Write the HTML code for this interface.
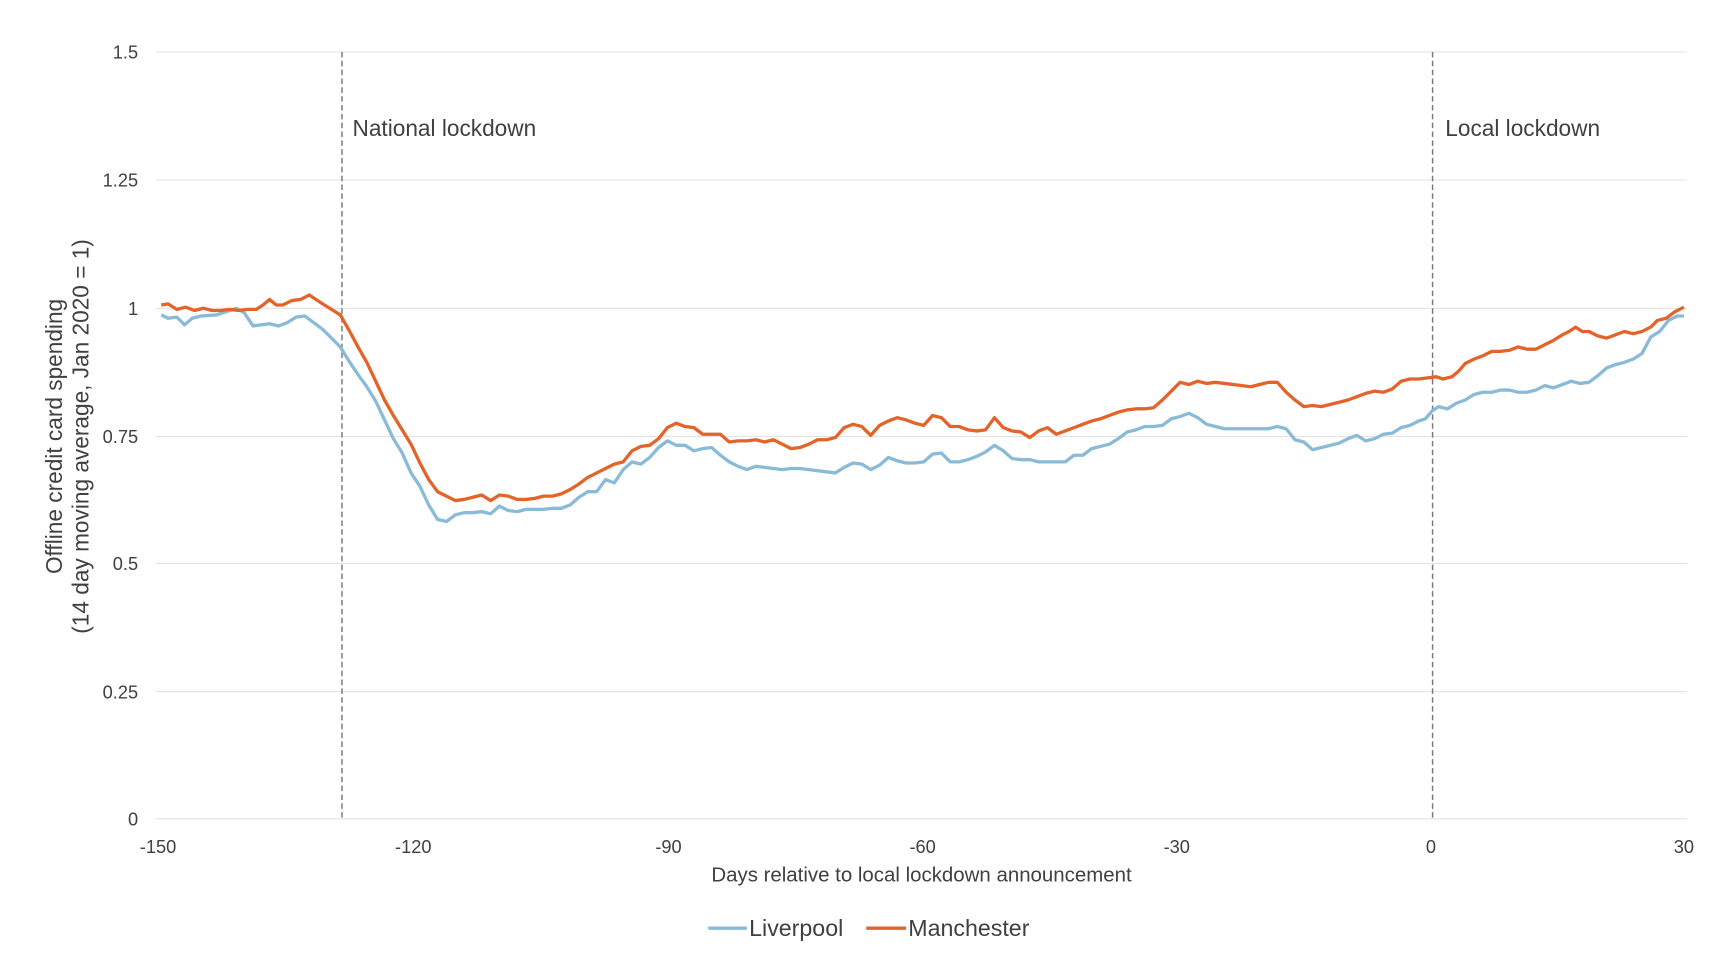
<!DOCTYPE html>
<html><head><meta charset="utf-8"><style>html,body{margin:0;padding:0;background:#fff}svg{display:block}text{font-family:"Liberation Sans",Arial,sans-serif;fill:#404040}</style></head>
<body>
<svg width="1733" height="959" viewBox="0 0 1568.4 867.9" xmlns="http://www.w3.org/2000/svg">
<g stroke="#e3e3e3" stroke-width="1">
<line x1="141" y1="47" x2="1527" y2="47"/><line x1="141" y1="163" x2="1527" y2="163"/>
<line x1="141" y1="279" x2="1527" y2="279"/><line x1="141" y1="395" x2="1527" y2="395"/>
<line x1="141" y1="510" x2="1527" y2="510"/><line x1="141" y1="626" x2="1527" y2="626"/>
<line x1="141" y1="741" x2="1527" y2="741"/></g>
<g font-size="16.5" text-anchor="end">
<text x="125" y="53">1.5</text><text x="125" y="169">1.25</text><text x="125" y="285">1</text>
<text x="125" y="401">0.75</text><text x="125" y="516">0.5</text><text x="125" y="632">0.25</text><text x="125" y="747">0</text></g>
<g font-size="16.5" text-anchor="middle">
<text x="143" y="772">-150</text><text x="374" y="772">-120</text><text x="605" y="772">-90</text>
<text x="835" y="772">-60</text><text x="1065" y="772">-30</text><text x="1295" y="772">0</text><text x="1524" y="772">30</text></g>
<text x="834" y="798" font-size="18.5" text-anchor="middle">Days relative to local lockdown announcement</text>
<g transform="translate(56,395) rotate(-90)" font-size="20.5" text-anchor="middle"><text x="0" y="0">Offline credit card spending</text><text x="0" y="24">(14 day moving average, Jan 2020 = 1)</text></g>
<line x1="309.5" y1="47" x2="309.5" y2="741" stroke="#777" stroke-width="1.3" stroke-dasharray="5,3"/>
<line x1="1296.5" y1="47" x2="1296.5" y2="741" stroke="#777" stroke-width="1.3" stroke-dasharray="5,3"/>
<text x="319" y="123" font-size="20.5">National lockdown</text>
<text x="1308" y="123" font-size="20.5">Local lockdown</text>
<polyline fill="none" stroke="#89bbd9" stroke-width="3" stroke-linejoin="round" points="146,285 152,288 160,287 167,294 174,288 182,286 196,285 205,282 214,279 221,283 229,295 236,294 244,293 252,295 260,292 268,287 276,286 284,292 292,298 300,306 308,314 316,327 324,339 332,350 340,363 348,380 356,397 364,410 372,428 380,440 388,457 396,470 404,472 412,466 420,464 428,464 436,463 444,465 452,458 460,462 468,463 476,461 484,461 492,461 500,460 508,460 516,457 524,450 532,445 540,445 548,434 556,437 564,425 572,418 580,420 588,414 596,405 604,399 612,403 620,403 628,408 636,406 644,405 652,412 660,418 668,422 676,425 684,422 692,423 700,424 708,425 716,424 724,424 732,425 740,426 748,427 756,428 764,423 772,419 780,420 788,425 796,421 804,414 812,417 820,419 828,419 836,418 844,411 852,410 860,418 868,418 876,416 884,413 892,409 900,403 908,408 916,415 924,416 932,416 940,418 948,418 956,418 964,418 972,412 980,412 988,406 996,404 1004,402 1012,397 1020,391 1028,389 1036,386 1044,386 1052,385 1060,379 1068,377 1076,374 1084,378 1092,384 1100,386 1108,388 1116,388 1124,388 1132,388 1140,388 1148,388 1156,386 1164,388 1172,398 1180,400 1188,407 1196,405 1204,403 1212,401 1220,397 1228,394 1236,399 1244,397 1252,393 1260,392 1268,387 1276,385 1284,381 1290,379 1296,372 1302,368 1310,370 1318,365 1326,362 1334,357 1342,355 1350,355 1358,353 1366,353 1374,355 1382,355 1390,353 1398,349 1406,351 1414,348 1422,345 1430,347 1438,346 1446,340 1454,333 1462,330 1470,328 1478,325 1486,320 1494,305 1502,300 1510,290 1518,286 1524,286"/>
<polyline fill="none" stroke="#e2642a" stroke-width="3" stroke-linejoin="round" points="146,276 152,275 160,280 168,278 176,281 184,279 192,281 200,281 208,280 216,281 224,280 232,280 238,276 244,271 250,276 256,276 264,272 272,271 280,267 286,271 292,275 300,280 308,285 316,299 324,314 332,328 340,345 348,362 356,376 364,389 372,402 380,419 388,434 396,445 404,449 412,453 420,452 428,450 436,448 444,453 452,448 460,449 468,452 476,452 484,451 492,449 500,449 508,447 516,443 524,438 532,432 540,428 548,424 556,420 564,418 572,408 580,404 588,403 596,397 604,387 612,383 620,386 628,387 636,393 644,393 652,393 660,400 668,399 676,399 684,398 692,400 700,398 708,402 716,406 724,405 732,402 740,398 748,398 756,396 764,387 772,384 780,386 788,394 796,385 804,381 812,378 820,380 828,383 836,385 844,376 852,378 860,386 868,386 876,389 884,390 892,389 900,378 908,387 916,390 924,391 932,396 940,390 948,387 956,393 964,390 972,387 980,384 988,381 996,379 1004,376 1012,373 1020,371 1028,370 1036,370 1044,369 1052,362 1060,354 1068,346 1076,348 1084,345 1092,347 1100,346 1108,347 1116,348 1124,349 1132,350 1140,348 1148,346 1156,346 1164,355 1172,362 1180,368 1188,367 1196,368 1204,366 1212,364 1220,362 1228,359 1236,356 1244,354 1252,355 1260,352 1268,345 1276,343 1284,343 1292,342 1300,341 1306,343 1314,341 1320,336 1326,329 1334,325 1342,322 1350,318 1358,318 1366,317 1374,314 1382,316 1390,316 1398,312 1406,308 1414,303 1420,300 1426,296 1432,300 1438,300 1446,304 1454,306 1462,303 1470,300 1478,302 1486,300 1494,296 1500,290 1508,288 1516,282 1524,278"/>
<line x1="641" y1="840" x2="676" y2="840" stroke="#89bbd9" stroke-width="3"/>
<text x="678" y="847" font-size="21">Liverpool</text>
<line x1="784" y1="840" x2="820" y2="840" stroke="#e2642a" stroke-width="3"/>
<text x="822" y="847" font-size="21">Manchester</text>
</svg>
</body></html>
